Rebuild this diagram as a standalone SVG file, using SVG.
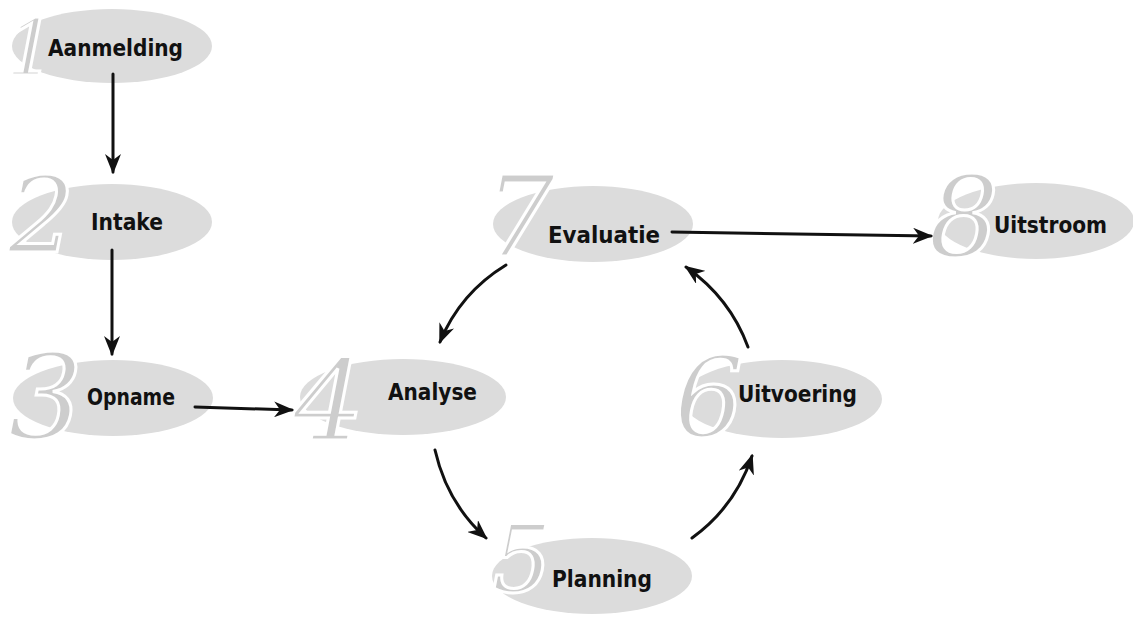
<svg xmlns="http://www.w3.org/2000/svg" width="1133" height="617" viewBox="0 0 1133 617">
<style>
.bg{fill:#dcdcdc}
.num{fill:#cdcdcd;stroke:#ffffff;stroke-width:3;font-family:"DejaVu Serif",serif;font-style:italic;font-weight:normal}
.lbl{fill:#111;font-family:"DejaVu Sans Condensed","DejaVu Sans",sans-serif;font-weight:bold;font-size:23px}
.con{fill:none;stroke:#111;stroke-width:3;stroke-linecap:round}
</style>
<defs>
<marker id="ah" viewBox="0 0 20 16" refX="18" refY="8" markerWidth="20" markerHeight="16" orient="auto" markerUnits="userSpaceOnUse">
<path d="M0,0 L20,8 L0,16 L6,8 Z" fill="#111"/>
</marker>
</defs>
<rect width="1133" height="617" fill="#ffffff"/>
<g id="node1">
<ellipse class="bg" cx="112" cy="46" rx="100" ry="37"/>
<text class="num" x="6" y="76" font-size="78">1</text>
<text class="lbl" x="48" y="56" textLength="135" lengthAdjust="spacingAndGlyphs">Aanmelding</text>
</g>
<g id="node2">
<ellipse class="bg" cx="112" cy="222" rx="100" ry="38"/>
<text class="num" x="8" y="252" font-size="105">2</text>
<text class="lbl" x="91" y="230" textLength="72" lengthAdjust="spacingAndGlyphs">Intake</text>
</g>
<g id="node3">
<ellipse class="bg" cx="113" cy="398" rx="100" ry="38"/>
<text class="num" x="8" y="438" font-size="118">3</text>
<text class="lbl" x="87" y="405" textLength="88" lengthAdjust="spacingAndGlyphs">Opname</text>
</g>
<g id="node4">
<ellipse class="bg" cx="403" cy="397" rx="103" ry="38"/>
<text class="num" x="293" y="440" font-size="112">4</text>
<text class="lbl" x="388" y="400" textLength="89" lengthAdjust="spacingAndGlyphs">Analyse</text>
</g>
<g id="node5">
<ellipse class="bg" cx="592" cy="576" rx="100" ry="38"/>
<text class="num" x="492" y="592" font-size="94">5</text>
<text class="lbl" x="552" y="587" textLength="100" lengthAdjust="spacingAndGlyphs">Planning</text>
</g>
<g id="node6">
<ellipse class="bg" cx="782" cy="399" rx="100" ry="39"/>
<text class="num" x="674" y="436" font-size="110">6</text>
<text class="lbl" x="738" y="402" textLength="119" lengthAdjust="spacingAndGlyphs">Uitvoering</text>
</g>
<g id="node7">
<ellipse class="bg" cx="593" cy="224" rx="100" ry="38"/>
<text class="num" x="484" y="256" font-size="112">7</text>
<text class="lbl" x="548" y="243" textLength="112" lengthAdjust="spacingAndGlyphs">Evaluatie</text>
</g>
<g id="node8">
<ellipse class="bg" cx="1036" cy="221" rx="98" ry="38"/>
<text class="num" x="928" y="256" font-size="112">8</text>
<text class="lbl" x="994" y="233" textLength="113" lengthAdjust="spacingAndGlyphs">Uitstroom</text>
</g>
<g id="connectors">
<path class="con" d="M113,74 L113,172" marker-end="url(#ah)"/>
<path class="con" d="M112,250 L112,354" marker-end="url(#ah)"/>
<path class="con" d="M195,407 L292,410" marker-end="url(#ah)"/>
<path class="con" d="M672,232 L931,236" marker-end="url(#ah)"/>
<path class="con" d="M506,265 Q460,293 440,342" marker-end="url(#ah)"/>
<path class="con" d="M435,450 Q447,503 486,538" marker-end="url(#ah)"/>
<path class="con" d="M692,538 Q735,507 752,456" marker-end="url(#ah)"/>
<path class="con" d="M748,347 Q730,298 686,267" marker-end="url(#ah)"/>
</g>
</svg>
